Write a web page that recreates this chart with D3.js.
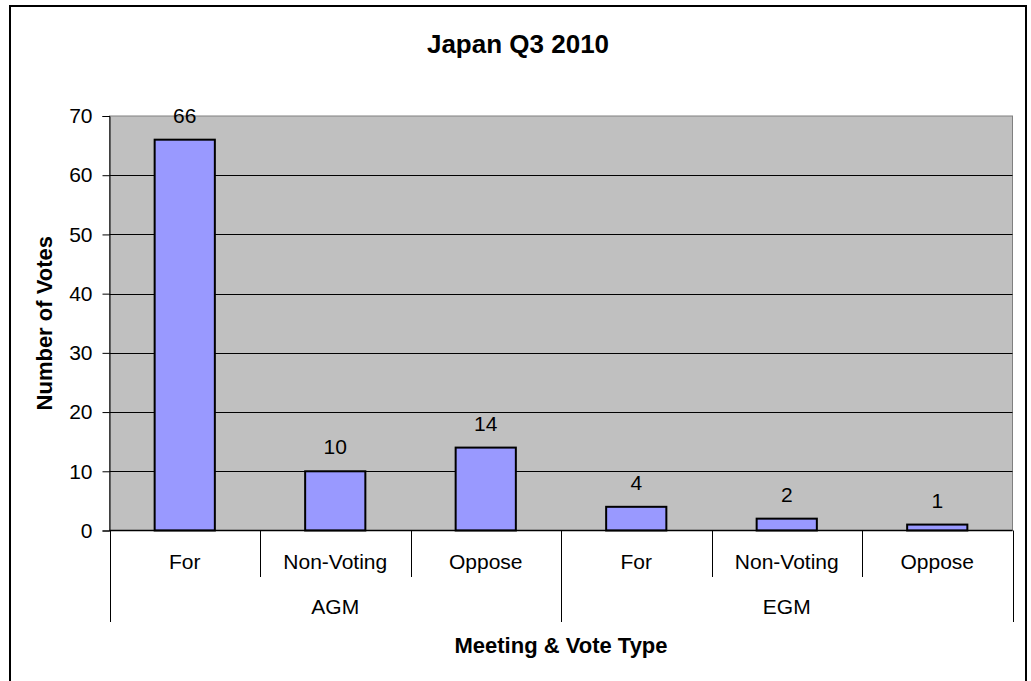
<!DOCTYPE html>
<html>
<head>
<meta charset="utf-8">
<script src="https://cdn.jsdelivr.net/npm/d3@7"></script>
<style>
  html, body { margin: 0; padding: 0; background: #fff; }
  svg { display: block; }
  text { font-family: Arial, "Liberation Sans", sans-serif; fill: #000; }
</style>
</head>
<body>
<svg id="chart" width="1031" height="681"></svg>
<script>
const title = "Japan Q3 2010";
const yTitle = "Number of Votes";
const xTitle = "Meeting & Vote Type";
const groups = ["AGM", "EGM"];
const voteTypes = ["For", "Non-Voting", "Oppose"];
const values = [66, 10, 14, 4, 2, 1];
const yTicks = [0, 10, 20, 30, 40, 50, 60, 70];

const categories = [];
groups.forEach(g => voteTypes.forEach(v => categories.push({ group: g, type: v, key: g + "|" + v })));
categories.forEach((c, i) => c.value = values[i]);

const svg = d3.select("#chart");
const plot = { left: 109.5, right: 1012.5, top: 116, bottom: 530.5 };

// outer chart border
svg.append("rect")
  .attr("x", 10).attr("y", 6).attr("width", 1016).attr("height", 700)
  .attr("fill", "#fff").attr("stroke", "#000").attr("stroke-width", 2);

const x = d3.scaleBand().domain(categories.map(c => c.key))
  .range([plot.left, plot.right]).padding(0);
const y = d3.scaleLinear().domain([0, 70]).range([plot.bottom, plot.top]);

// plot area
svg.append("rect")
  .attr("x", plot.left).attr("y", plot.top)
  .attr("width", plot.right - plot.left).attr("height", plot.bottom - plot.top)
  .attr("fill", "#C0C0C0").attr("stroke", "#808080").attr("stroke-width", 1);

// gridlines
svg.append("g").selectAll("line").data(yTicks.filter(t => t > 0 && t < 70)).join("line")
  .attr("x1", plot.left).attr("x2", plot.right)
  .attr("y1", d => Math.round(y(d)) + 0.5).attr("y2", d => Math.round(y(d)) + 0.5)
  .attr("stroke", "#000").attr("stroke-width", 1);

// y axis
const yAxis = d3.axisLeft(y).tickValues(yTicks).tickSize(7).tickPadding(10);
const gy = svg.append("g").attr("transform", `translate(${plot.left},0)`).call(yAxis);
gy.select(".domain").attr("stroke", "#000");
gy.selectAll(".tick line").attr("stroke", "#000");
gy.selectAll(".tick text").style("font-size", "21px").style("font-family", "Arial, 'Liberation Sans', sans-serif").attr("fill", "#000");

// bars
const barW = x.bandwidth() * 0.4;
svg.append("g").selectAll("rect").data(categories).join("rect")
  .attr("x", d => x(d.key) + (x.bandwidth() - barW) / 2)
  .attr("y", d => y(d.value))
  .attr("width", barW)
  .attr("height", d => y(0) - y(d.value))
  .attr("fill", "#9999FF").attr("stroke", "#000").attr("stroke-width", 2);

// value labels
svg.append("g").selectAll("text").data(categories).join("text")
  .attr("x", d => x(d.key) + x.bandwidth() / 2)
  .attr("y", d => y(d.value) - 17)
  .attr("text-anchor", "middle").style("font-size", "21px")
  .text(d => d.value);

// x axis line
svg.append("line")
  .attr("x1", plot.left).attr("x2", plot.right)
  .attr("y1", plot.bottom).attr("y2", plot.bottom)
  .attr("stroke", "#000").attr("stroke-width", 1.5);

// category separators
const seps = [];
categories.forEach((c, i) => {
  seps.push({ x: x(c.key), long: i % voteTypes.length === 0 });
});
seps.push({ x: plot.right, long: true });
svg.append("g").selectAll("line").data(seps).join("line")
  .attr("x1", d => Math.round(d.x) + 0.5).attr("x2", d => Math.round(d.x) + 0.5)
  .attr("y1", plot.bottom).attr("y2", d => d.long ? 622 : 577)
  .attr("stroke", "#000").attr("stroke-width", 1);

// category labels
svg.append("g").selectAll("text").data(categories).join("text")
  .attr("x", d => x(d.key) + x.bandwidth() / 2)
  .attr("y", 569)
  .attr("text-anchor", "middle").style("font-size", "21px")
  .text(d => d.type);

// group labels
svg.append("g").selectAll("text").data(groups).join("text")
  .attr("x", g => {
    const ks = categories.filter(c => c.group === g).map(c => c.key);
    return (x(ks[0]) + x(ks[ks.length - 1]) + x.bandwidth()) / 2;
  })
  .attr("y", 614)
  .attr("text-anchor", "middle").style("font-size", "21px")
  .text(g => g);

// titles
svg.append("text").attr("x", 518).attr("y", 53)
  .attr("text-anchor", "middle").style("font-size", "26px").style("font-weight", "bold")
  .text(title);

svg.append("text").attr("x", (plot.left + plot.right) / 2).attr("y", 653)
  .attr("text-anchor", "middle").style("font-size", "22px").style("font-weight", "bold")
  .text(xTitle);

svg.append("text")
  .attr("transform", `translate(52,${(plot.top + plot.bottom) / 2}) rotate(-90)`)
  .attr("text-anchor", "middle").style("font-size", "22px").style("font-weight", "bold")
  .text(yTitle);
</script>
</body>
</html>
